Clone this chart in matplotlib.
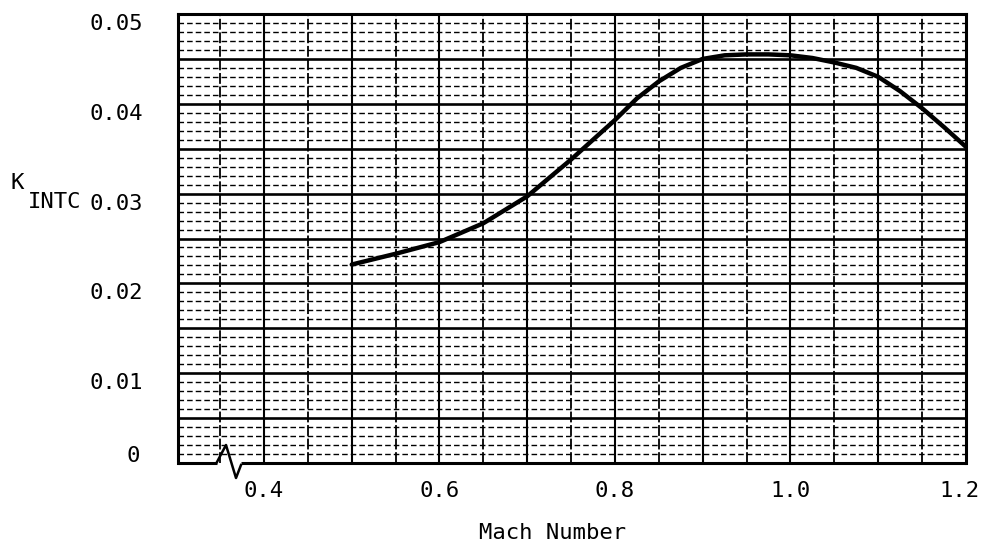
import matplotlib
matplotlib.use("Agg")
import matplotlib.pyplot as plt
import numpy as np
from matplotlib.transforms import ScaledTranslation

# Data
mach = [0.50, 0.55, 0.60, 0.65, 0.70, 0.75, 0.775, 0.80, 0.825, 0.85, 0.875,
        0.90, 0.925, 0.95, 0.975, 1.00, 1.025, 1.05, 1.075, 1.10, 1.125,
        1.15, 1.175, 1.20]
k_intc = [0.0221, 0.0233, 0.0246, 0.0267, 0.0297, 0.0338, 0.0360, 0.0382,
          0.0406, 0.0425, 0.0440, 0.0450, 0.0454, 0.0455, 0.0455, 0.0454,
          0.0451, 0.0446, 0.0440, 0.0430, 0.0414, 0.0395, 0.0374, 0.0352]

x_ticks = [0.4, 0.6, 0.8, 1.0, 1.2]
x_ticklabels = ["0.4", "0.6", "0.8", "1.0", "1.2"]
y_ticks = [0.0, 0.01, 0.02, 0.03, 0.04, 0.05]
y_ticklabels = ["0", "0.01", "0.02", "0.03", "0.04", "0.05"]

FONT = "DejaVu Sans Mono"
FS = 16
W, H = 984, 551
fig = plt.figure(figsize=(W / 100, H / 100), dpi=100)
L, R, B, T = 178, 966, 463, 14
ax = fig.add_axes([L / W, 1 - B / H, (R - L) / W, (B - T) / H])

xmin, xmax = 0.302, 1.2
ax.set_xlim(xmin, xmax)
ax.set_ylim(0, 0.05)

# graph paper grid
for yv in np.arange(0.001, 0.05, 0.001):
    k = int(round(yv * 1000))
    if k % 5 == 0:
        ax.axhline(yv, color="black", lw=1.9, zorder=1)
    else:
        ax.axhline(yv, color="black", lw=1.0, ls=(0, (4, 2.2)), zorder=1)
for xv in np.arange(0.35, 1.2, 0.05):
    k = int(round(xv * 100))
    if k % 10 == 0:
        ax.axvline(xv, color="black", lw=1.5, zorder=1)
    else:
        ax.axvline(xv, color="black", lw=1.3, ls=(0, (6, 1.5)), zorder=1)

ax.plot(mach, k_intc, color="black", lw=3.2, solid_capstyle="round",
        solid_joinstyle="round", zorder=3)

for s in ["top", "left", "right"]:
    ax.spines[s].set_linewidth(2.2)
ax.spines["bottom"].set_visible(False)

# bottom axis with break symbol
xa = lambda px: (px - L) / (R - L)
ya = lambda py: (B - py) / (B - T)
ax.plot([0, xa(217)], [0, 0], transform=ax.transAxes, color="black",
        lw=2.2, clip_on=False, zorder=4, solid_capstyle="butt")
ax.plot([xa(217), xa(226), xa(236), xa(241)],
        [ya(462), ya(445), ya(478), ya(465)], transform=ax.transAxes,
        color="black", lw=1.8, clip_on=False, zorder=4)
ax.plot([xa(241), 1], [0, 0], transform=ax.transAxes, color="black",
        lw=2.2, clip_on=False, zorder=4, solid_capstyle="butt")

ax.set_xticks(x_ticks)
ax.set_xticklabels(x_ticklabels, fontfamily=FONT, fontsize=FS)
ax.set_yticks(y_ticks)
ax.set_yticklabels(y_ticklabels, fontfamily=FONT, fontsize=FS)
ax.tick_params(axis="both", length=0)
ax.tick_params(axis="x", pad=13)
ax.tick_params(axis="y", pad=25)

for lab in ax.get_yticklabels():
    dy = 9 if lab.get_text() == "0" else -8
    dx = -3 if lab.get_text() == "0" else 0
    lab.set_transform(lab.get_transform() +
                      ScaledTranslation(dx / 100, dy / 100,
                                        fig.dpi_scale_trans))
for lab in ax.get_xticklabels():
    dx = -7 if lab.get_text() == "1.2" else 0
    lab.set_transform(lab.get_transform() +
                      ScaledTranslation(dx / 100, 0, fig.dpi_scale_trans))

fig.text(553 / W, 1 - 533 / H, "Mach Number", fontfamily=FONT, fontsize=FS,
         ha="center", va="center")
fig.text(11 / W, 1 - 183 / H, "K", fontfamily=FONT, fontsize=FS,
         ha="left", va="center")
fig.text(28 / W, 1 - 202 / H, "INTC", fontfamily=FONT, fontsize=FS,
         ha="left", va="center")

fig.savefig("out.png", dpi=100, facecolor="white")
